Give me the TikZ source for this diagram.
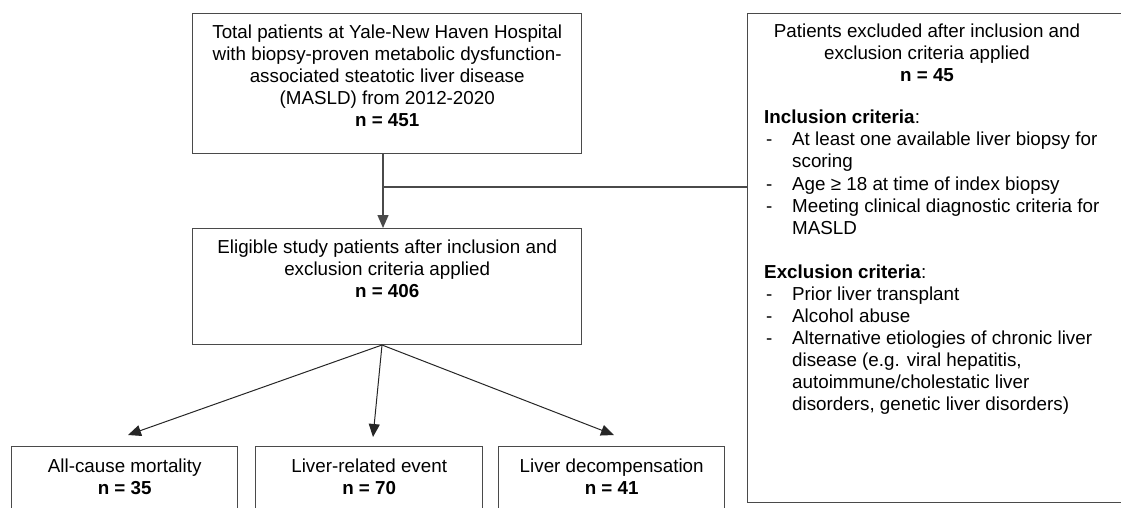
\documentclass[tikz,border=0pt]{standalone}
\usepackage{fontspec}
\setmainfont{Liberation Sans}
\usetikzlibrary{arrows.meta}
\definecolor{linegray}{HTML}{4A4A4A}
\newcommand{\fs}{\fontsize{18.8pt}{22pt}\selectfont}
\newcommand{\itm}[1]{\makebox[28pt][l]{\hspace*{2pt}-}#1}
\newcommand{\cnt}[1]{\hspace*{28pt}#1}
\tikzset{
  box/.style={draw=linegray, line width=1.4pt, inner sep=0pt, anchor=north west},
  txt/.style={align=center, inner sep=0pt, anchor=north, font=\fs},
  lst/.style={align=left, inner sep=0pt, anchor=north west, font=\fs},
  conn/.style={draw=linegray, line width=1.4pt},
  arr/.style={draw=black!85, line width=1pt, -{Triangle[length=13pt,width=11pt]}}
}
\begin{document}
\begin{tikzpicture}[x=1pt,y=-1pt]
\useasboundingbox (0,0) rectangle (1121,508);
% boxes
\node[box, minimum width=389pt, minimum height=140pt] (total) at (192,13) {};
\node[box, minimum width=389pt, minimum height=116pt] (elig) at (192,228) {};
\node[box, minimum width=450pt, minimum height=489pt] (excl) at (747,13) {};
\node[box, minimum width=226pt, minimum height=90pt] (mort) at (11,446) {};
\node[box, minimum width=227pt, minimum height=90pt] (liver) at (255,446) {};
\node[box, minimum width=226pt, minimum height=90pt] (decomp) at (498,446) {};
% texts
\node[txt] (totaltxt) at ([yshift=-11.5pt]total.north) {Total patients at Yale-New Haven Hospital\\with biopsy-proven metabolic dysfunction-\\associated steatotic liver disease\\(MASLD) from 2012-2020\\\textbf{n = 451}};
\node[txt] (eligtxt) at ([yshift=-11.5pt]elig.north) {Eligible study patients after inclusion and\\exclusion criteria applied\\\textbf{n = 406}};
\node[txt] (excltxt) at (927,23.5) {Patients excluded after inclusion and\\exclusion criteria applied\\\textbf{n = 45}};
\node[lst] (crit) at (764,109.5) {\textbf{Inclusion criteria}:\\
\itm{At least one available liver biopsy for}\\
\cnt{scoring}\\[1pt]
\itm{Age ≥ 18 at time of index biopsy}\\
\itm{Meeting clinical diagnostic criteria for}\\
\cnt{MASLD}\\[22pt]
\textbf{Exclusion criteria}:\\
\itm{Prior liver transplant}\\
\itm{Alcohol abuse}\\
\itm{Alternative etiologies of chronic liver}\\
\cnt{disease (e.g. viral hepatitis,}\\
\cnt{autoimmune/cholestatic liver}\\
\cnt{disorders, genetic liver disorders)}};
\node[txt] (morttxt) at ([yshift=-12.5pt]mort.north) {All-cause mortality\\\textbf{n = 35}};
\node[txt] (livertxt) at ([yshift=-12.5pt]liver.north) {Liver-related event\\\textbf{n = 70}};
\node[txt] (decomptxt) at ([yshift=-12.5pt]decomp.north) {Liver decompensation\\\textbf{n = 41}};
% connectors
\coordinate (split) at (383,187);
\coordinate (fork) at (382,345);
\draw[conn] (total.south -| split) -- (split);
\draw[conn] (split) -- (excl.west |- split);
\draw[conn, -{Triangle[length=13pt,width=11pt]}] (split) -- (elig.north -| split);
\draw[arr] (fork) -- (128,435);
\draw[arr] (fork) -- (373,437);
\draw[arr] (fork) -- (614,435);
\end{tikzpicture}
\end{document}
